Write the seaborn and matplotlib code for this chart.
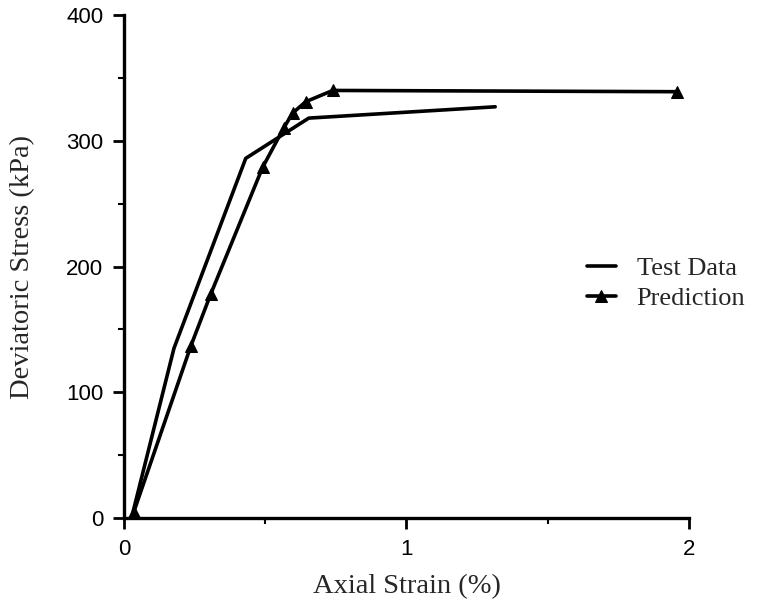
import matplotlib
matplotlib.use("Agg")
import matplotlib.pyplot as plt
from matplotlib.ticker import MultipleLocator
import seaborn as sns
import pandas as pd

# Measured stress-strain curve
test_strain = [0.03, 0.177, 0.431, 0.654, 1.314]
test_stress = [3, 135, 286, 318, 327]

# Model prediction
pred_strain = [0.035, 0.237, 0.307, 0.491, 0.565, 0.597, 0.643, 0.739, 1.958]
pred_stress = [5, 137, 178, 279, 310, 322, 331, 340, 339]

x_ticks = [0, 1, 2]
y_ticks = [0, 100, 200, 300, 400]

sns.set_theme(style="ticks")
plt.rcParams["font.family"] = ["Liberation Sans", "DejaVu Sans"]

df_test = pd.DataFrame({"strain": test_strain, "stress": test_stress})
df_pred = pd.DataFrame({"strain": pred_strain, "stress": pred_stress})

fig = plt.figure(figsize=(7.62, 6.07), dpi=100)
ax = fig.add_axes([0.1627, 0.1466, 0.7415, 0.8287])

sns.lineplot(data=df_test, x="strain", y="stress", sort=False, ax=ax,
             color="black", linewidth=2.6, label="Test Data")
sns.lineplot(data=df_pred, x="strain", y="stress", sort=False, ax=ax,
             color="black", linewidth=2.6, marker="^", markersize=8,
             markeredgecolor="black", label="Prediction")

ax.set_xlim(0, 2)
ax.set_ylim(0, 400)
ax.set_xticks(x_ticks)
ax.set_yticks(y_ticks)
ax.set_xticklabels([str(t) for t in x_ticks])
ax.set_yticklabels([str(t) for t in y_ticks])
ax.xaxis.set_minor_locator(MultipleLocator(0.5))
ax.yaxis.set_minor_locator(MultipleLocator(50))

for side in ("top", "right"):
    ax.spines[side].set_visible(False)
for side in ("left", "bottom"):
    ax.spines[side].set_linewidth(2.4)
    ax.spines[side].set_color("black")

ax.tick_params(axis="both", which="major", direction="out", length=8,
               width=2, labelsize=16, colors="black", pad=7)
ax.tick_params(axis="both", which="minor", direction="out", length=4,
               width=1.5, colors="black")

serif = ["Liberation Serif", "DejaVu Serif"]
ax.set_xlabel("Axial Strain (%)", fontsize=20.5, family=serif, labelpad=10)
ax.set_ylabel("Deviatoric Stress (kPa)", fontsize=20.5, family=serif, labelpad=22)

leg = ax.legend(loc="upper left", bbox_to_anchor=(0.8, 0.54), frameon=False,
                prop={"family": serif, "size": 19}, handlelength=1.1,
                handletextpad=0.8, labelspacing=0.25, borderaxespad=0)

fig.savefig("out.png", dpi=100, facecolor="white")
